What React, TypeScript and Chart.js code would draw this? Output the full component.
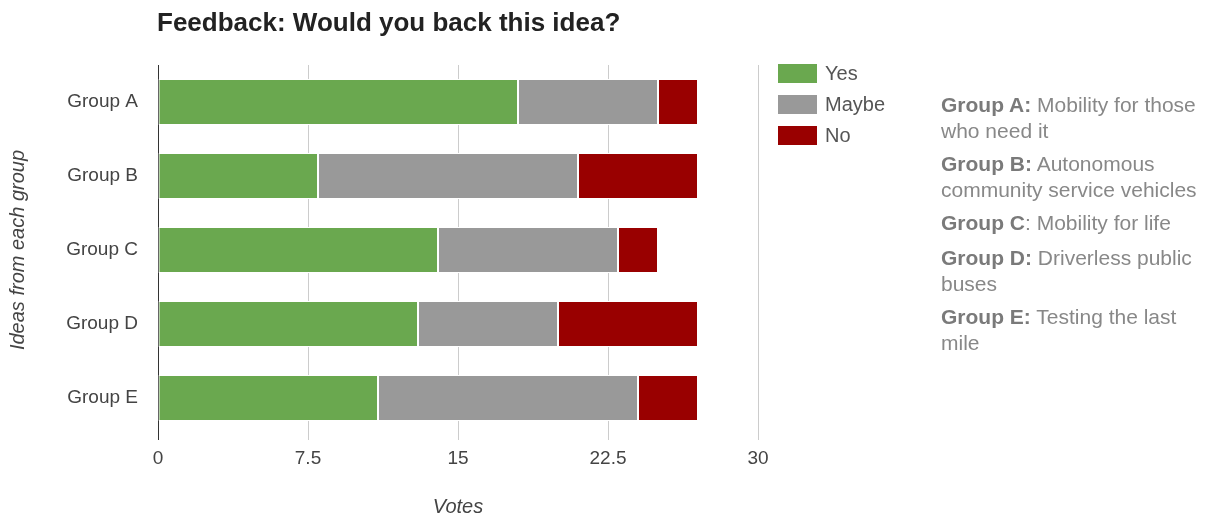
import React, { useEffect, useRef } from "react";
import { Chart, registerables } from "chart.js";

Chart.register(...registerables);

const categories = ["Group A", "Group B", "Group C", "Group D", "Group E"];
const seriesNames = ["Yes", "Maybe", "No"];
const yesVotes = [18, 8, 14, 13, 11];
const maybeVotes = [7, 13, 9, 7, 13];
const noVotes = [2, 6, 2, 7, 3];
const seriesColors = ["#6aa84f", "#999999", "#990000"];
const xTicks = [0, 7.5, 15, 22.5, 30];
const noteHeads = ["Group A:", "Group B:", "Group C", "Group D:", "Group E:"];
const noteBodies = [
  " Mobility for those who need it",
  " Autonomous community service vehicles",
  ": Mobility for life",
  " Driverless public buses",
  " Testing the last mile",
];

const FONT = "'Liberation Sans', Arial, sans-serif";

export default function App() {
  const ref = useRef<HTMLCanvasElement | null>(null);

  useEffect(() => {
    if (!ref.current) return;
    const values = [yesVotes, maybeVotes, noVotes];
    const chart = new Chart(ref.current, {
      type: "bar",
      data: {
        labels: categories,
        datasets: seriesNames.map((name, i) => ({
          label: name,
          data: values[i],
          backgroundColor: seriesColors[i],
          borderColor: "#ffffff",
          borderWidth: 1,
          borderSkipped: false,
          barPercentage: 0.62,
          categoryPercentage: 1,
        })),
      },
      options: {
        indexAxis: "y",
        animation: false,
        responsive: false,
        maintainAspectRatio: false,
        layout: { padding: { left: 0, right: 454, top: 65, bottom: 0 } },
        plugins: {
          legend: { display: false },
          title: { display: false },
          tooltip: { enabled: false },
        },
        scales: {
          x: {
            stacked: true,
            min: 0,
            max: 30,
            afterBuildTicks: (scale: any) => {
              scale.ticks = xTicks.map((v) => ({ value: v }));
            },
            afterFit: (scale: any) => {
              scale.height = 86;
            },
            ticks: {
              color: "#444444",
              font: { family: FONT, size: 19 },
              padding: 7,
              callback: (v: any) => String(v),
            },
            grid: {
              color: (ctx: any) => (ctx.tick && ctx.tick.value === 0 ? "#333333" : "#cccccc"),
              lineWidth: 1,
              drawTicks: true,
              tickLength: 5,
            },
            border: { display: false },
            title: {
              display: true,
              text: "Votes",
              color: "#444444",
              font: { family: FONT, size: 20, style: "italic" },
              padding: { top: 0, bottom: 2 },
            },
          },
          y: {
            stacked: true,
            afterFit: (scale: any) => {
              scale.width = 158;
            },
            ticks: {
              color: "#444444",
              font: { family: FONT, size: 19 },
              padding: 20,
            },
            grid: { display: false, drawTicks: false },
            border: { display: false },
            title: {
              display: true,
              text: "Ideas from each group",
              color: "#444444",
              font: { family: FONT, size: 20, style: "italic" },
              padding: { top: 6, bottom: 0 },
            },
          },
        },
      },
    });
    return () => chart.destroy();
  }, []);

  return (
    <div style={{ position: "absolute", left: 0, top: 0, width: 1212, height: 521, background: "#fff", fontFamily: FONT }}>
      <canvas ref={ref} width={1212} height={521} style={{ position: "absolute", left: 0, top: 0 }} />
      <div
        style={{
          position: "absolute",
          left: 157,
          top: 7,
          fontSize: 26,
          fontWeight: "bold",
          color: "#222222",
          whiteSpace: "nowrap",
        }}
      >
        Feedback: Would you back this idea?
      </div>
      <div style={{ position: "absolute", left: 778, top: 58 }}>
        {seriesNames.map((name, i) => (
          <div key={name} style={{ display: "flex", alignItems: "center", height: 31 }}>
            <div style={{ width: 39, height: 19, background: seriesColors[i], marginRight: 8 }} />
            <span style={{ fontSize: 20, color: "#555555" }}>{name}</span>
          </div>
        ))}
      </div>
      <div style={{ position: "absolute", left: 941, top: 92, width: 266, fontSize: 21, color: "#888888", lineHeight: "26px" }}>
        {noteHeads.map((g, i) => (
          <div key={g} style={{ marginBottom: i === 2 ? 9 : 7 }}>
            <b style={{ color: "#7a7a7a" }}>{g}</b>
            {noteBodies[i]}
          </div>
        ))}
      </div>
    </div>
  );
}
